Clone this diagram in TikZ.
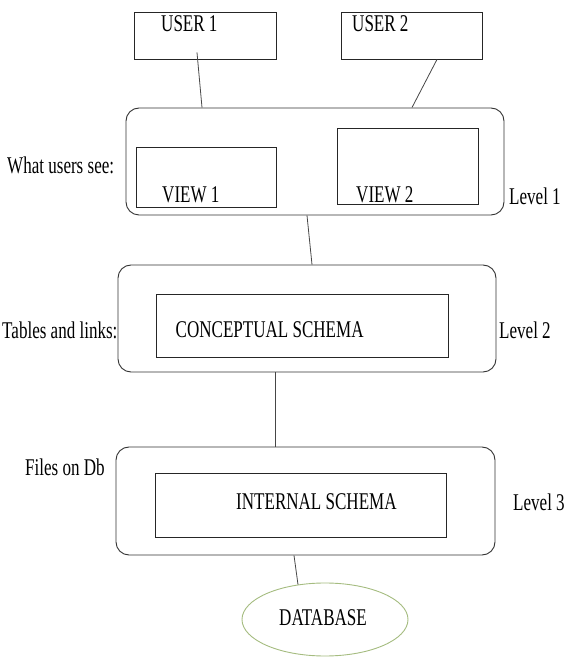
\documentclass[tikz,border=0pt]{standalone}
\usepackage{fontspec}
\setmainfont[FakeStretch=0.71]{Liberation Serif}
\usetikzlibrary{shapes.geometric,calc}
\definecolor{dbgreen}{RGB}{165,188,128}
\definecolor{linegray}{RGB}{70,70,70}
\tikzset{
  box/.style={draw=black!85, line width=0.9pt, inner sep=0pt},
  levelbox/.style={draw=black!80, line width=0.9pt, rounded corners=13pt, inner sep=0pt},
  txt/.style={anchor=west, inner sep=0pt, font=\fontsize{24}{26}\selectfont},
  link/.style={draw=linegray, line width=0.8pt},
  dbshape/.style={ellipse, draw=dbgreen, line width=0.9pt, inner sep=0pt}
}
\begin{document}
\begin{tikzpicture}[x=1pt,y=1pt]
\useasboundingbox (0,0) rectangle (564,657);

% user boxes
\node[box, minimum width=142pt, minimum height=47pt] (u1) at (205,621.5) {};
\node[box, minimum width=141pt, minimum height=47pt] (u2) at (411.5,621.5) {};
\node[txt] (u1t) at (161,633) {USER 1};
\node[txt] (u2t) at (352,633) {USER 2};

% level 1: external views
\node[levelbox, minimum width=378pt, minimum height=107pt] (L1) at (315,495.5) {};
\node[box, minimum width=140pt, minimum height=60pt] (v1) at (206,480) {};
\node[box, minimum width=141pt, minimum height=76pt] (v2) at (407.5,491) {};
\node[txt] (v1t) at (162,462) {VIEW 1};
\node[txt] (v2t) at (356,462) {VIEW 2};
\node[txt] (l1side) at (7,492) {What users see:};
\node[txt] (l1lab) at (509,461) {Level 1};

% level 2: conceptual schema
\node[levelbox, minimum width=378pt, minimum height=107pt] (L2) at (307,338.5) {};
\node[box, minimum width=292pt, minimum height=63pt] (cs) at (302,331.5) {};
\node[txt] (cst) at (175.5,327) {CONCEPTUAL SCHEMA};
\node[txt] (l2side) at (2,327) {Tables and links:};
\node[txt] (l2lab) at (499,327) {Level 2};

% level 3: internal schema
\node[levelbox, minimum width=379pt, minimum height=108pt] (L3) at (305.5,156) {};
\node[box, minimum width=291pt, minimum height=64pt] (is) at (300.5,152) {};
\node[txt] (ist) at (236,155) {INTERNAL SCHEMA};
\node[txt] (l3side) at (25,190) {Files on Db};
\node[txt] (l3lab) at (513,155) {Level 3};

% database
\node[dbshape, minimum width=166pt, minimum height=73pt] (db) at (325,37.5) {};
\node[txt] (dbt) at (279,39) {DATABASE};

% connectors
\draw[link] ($(u1.south)+(-8,7)$) -- ($(L1.north)+(-113,0)$);
\draw[link] ($(u2.south)+(25.5,0)$) -- ($(L1.north)+(97,0)$);
\draw[link] ($(L1.south)+(-8,0)$) -- ($(L2.north)+(5,0)$);
\draw[link] ($(L2.south)+(-32,0)$) -- ($(L3.north)+(-30.5,0)$);
\draw[link] ($(L3.south)+(-11.5,0)$) -- ($(db.north)+(-27,-2)$);
\end{tikzpicture}
\end{document}
